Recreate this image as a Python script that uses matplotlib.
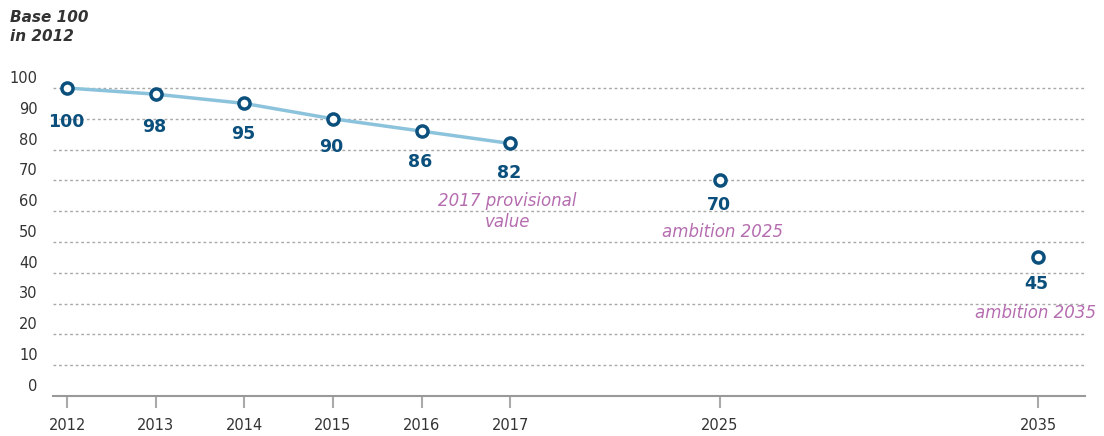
import matplotlib.pyplot as plt
import matplotlib.transforms as mtransforms

# data
years = ['2012', '2013', '2014', '2015', '2016', '2017', '2025', '2035']
values = [100, 98, 95, 90, 86, 82, 70, 45]
n_observed = 6  # 2012-2017 are joined by the line
notes = {'2017': '2017 provisional\nvalue', '2025': 'ambition 2025', '2035': 'ambition 2035'}

# horizontal layout of the categories (uneven gaps after 2017)
xpos = [0, 1, 2, 3, 4, 5, 7.37, 10.96]
# vertical offset (pt) of each value label below its marker
label_dy = [-24.3, -23.6, -22, -20, -22, -21.5, -17.8, -19.3]

dark_blue = '#0b4f7c'
light_blue = '#8cc3dc'
pink = '#b56db0'
grey_txt = '#333333'

fig = plt.figure(figsize=(11.04, 4.36), dpi=100)
ax = fig.add_axes([53 / 1104, 1 - 396 / 436, (1085 - 53) / 1104, (396 - 72) / 436])

ax.plot(xpos[:n_observed], values[:n_observed], color=light_blue, lw=2.5, zorder=2)
ax.plot(xpos, values, ls='none', marker='o', ms=8, mew=2.5,
        mfc='white', mec=dark_blue, zorder=3)

for x, v, dy in zip(xpos, values, label_dy):
    ax.annotate(str(v), (x, v), xytext=(-1, dy), textcoords='offset points',
                ha='center', va='center', fontsize=12.5, fontweight='bold',
                color=dark_blue)

note_offsets = {'2017': (-2, -49), '2025': (1.5, -37), '2035': (-2, -40)}
for yr, txt in notes.items():
    i = years.index(yr)
    ax.annotate(txt, (xpos[i], values[i]), xytext=note_offsets[yr],
                textcoords='offset points', ha='center', va='center',
                fontsize=12, style='italic', color=pink, linespacing=1.25)

ax.set_xlim(-0.16, 11.49)
ax.set_ylim(0, 105.2)

ax.set_xticks(xpos)
ax.set_xticklabels(years)
ax.set_yticks(range(0, 101, 10))
ax.tick_params(axis='x', length=8.5, width=1.5, color='#aaaaaa', pad=7,
               labelsize=10.5, labelcolor=grey_txt)
ax.tick_params(axis='y', length=0, pad=11, labelsize=10.5, labelcolor=grey_txt)

# y labels sit a little above their gridline
shift = mtransforms.ScaledTranslation(0, 8 / 72, fig.dpi_scale_trans)
for lab in ax.get_yticklabels():
    lab.set_transform(lab.get_transform() + shift)

for v in range(10, 101, 10):
    ax.axhline(v, color='#a8a8a8', lw=1, ls=(0, (2, 2)), zorder=1)

for s in ['top', 'right', 'left']:
    ax.spines[s].set_visible(False)
ax.spines['bottom'].set_color('#999999')
ax.spines['bottom'].set_linewidth(1.5)

fig.text(10 / 1104, 1 - 27 / 436, 'Base 100\nin 2012', ha='left', va='center',
         fontsize=11, style='italic', fontweight='bold', color=grey_txt,
         linespacing=1.3)

fig.savefig('out.png', dpi=100)
